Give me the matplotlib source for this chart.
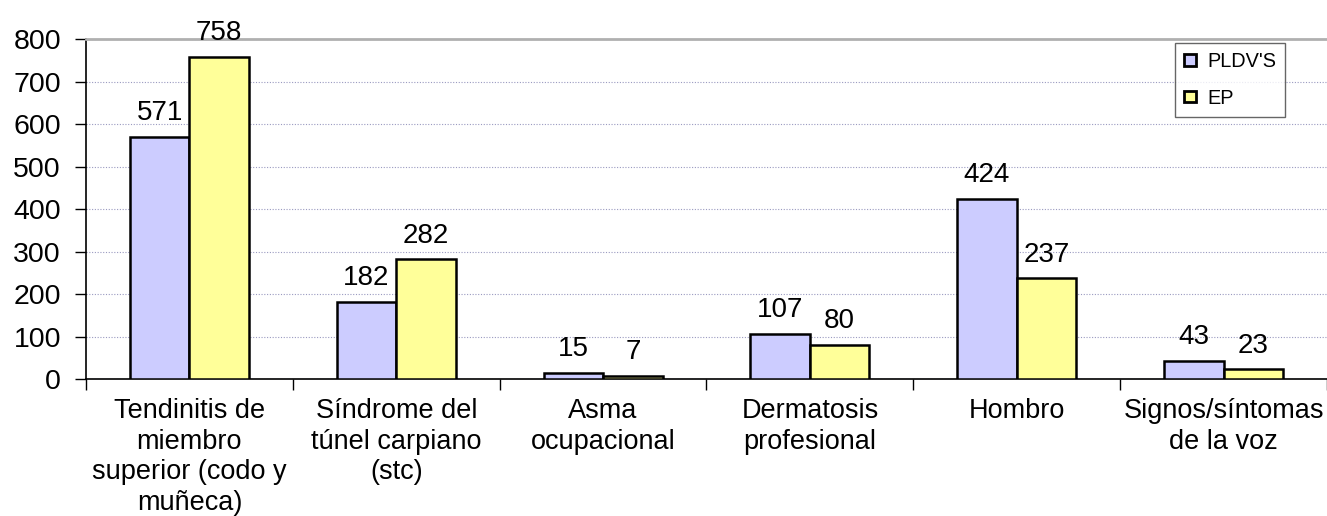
import matplotlib
matplotlib.use("Agg")
import matplotlib.pyplot as plt
import numpy as np
from matplotlib.patches import Patch

plt.rcParams['font.family'] = ['Liberation Sans', 'DejaVu Sans']

categories = ["Tendinitis de\nmiembro\nsuperior (codo y\nmuñeca)",
              "Síndrome del\ntúnel carpiano\n(stc)",
              "Asma\nocupacional",
              "Dermatosis\nprofesional",
              "Hombro",
              "Signos/síntomas\nde la voz"]
pldvs = [571, 182, 15, 107, 424, 43]
ep = [758, 282, 7, 80, 237, 23]
series_names = ["PLDV'S", "EP"]
yticks = [0, 100, 200, 300, 400, 500, 600, 700, 800]

c1 = "#CCCCFF"
c2 = "#FFFF99"

fig = plt.figure(figsize=(13.27, 5.16), dpi=100)
ax = fig.add_axes([86/1327, 137/516, 1 - 86/1327, (379-39.3)/516])

x = np.arange(len(categories))
w = 0.288
ax.bar(x - w/2, pldvs, w, color=c1, edgecolor="black", linewidth=1.8, zorder=3)
ax.bar(x + w/2, ep, w, color=c2, edgecolor="black", linewidth=1.8, zorder=3)

for xi, v in zip(x, pldvs):
    ax.annotate(str(v), (xi - w/2, v), xytext=(0, 12), textcoords="offset points",
                ha="center", va="baseline", fontsize=20)
for xi, v in zip(x, ep):
    ax.annotate(str(v), (xi + w/2, v), xytext=(0, 12), textcoords="offset points",
                ha="center", va="baseline", fontsize=20)

ax.set_xlim(-0.5, len(categories) - 0.5)
ax.set_ylim(0, 800)
ax.set_yticks(yticks)
ax.set_yticklabels([str(t) for t in yticks], fontsize=20.5)
ax.tick_params(axis="y", direction="out", length=8, width=1, pad=10)

ax.set_xticks(x)
ax.set_xticklabels(categories, fontsize=19.5, linespacing=1.22)
ax.tick_params(axis="x", which="major", length=0, pad=14)
ax.set_xticks(np.arange(len(categories) + 1) - 0.5, minor=True)
ax.tick_params(axis="x", which="minor", direction="out", length=8, width=1)

ax.yaxis.grid(True, linestyle=(0, (1, 1.5)), color="#9A9AC0", linewidth=0.8, zorder=0)
ax.set_axisbelow(True)

ax.spines["right"].set_visible(False)
ax.spines["top"].set_color("#B0B0B0")
ax.spines["top"].set_linewidth(2)
ax.spines["left"].set_linewidth(1.2)
ax.spines["bottom"].set_linewidth(1.2)

handles = [Patch(facecolor=c1, edgecolor="black", linewidth=2),
           Patch(facecolor=c2, edgecolor="black", linewidth=2)]
leg = ax.legend(handles, series_names, loc="upper left", fontsize=14.3, frameon=True,
                fancybox=False, edgecolor="#404040", handlelength=0.62,
                handleheight=0.5, handletextpad=0.55, labelspacing=0.9,
                borderpad=0.45, borderaxespad=0)
leg.get_frame().set_linewidth(1)
leg.set_bbox_to_anchor(((1175 - 86) / (1327 - 86), (379 - 43) / (379 - 39.3)), transform=ax.transAxes)

fig.savefig("out.png", dpi=100)
